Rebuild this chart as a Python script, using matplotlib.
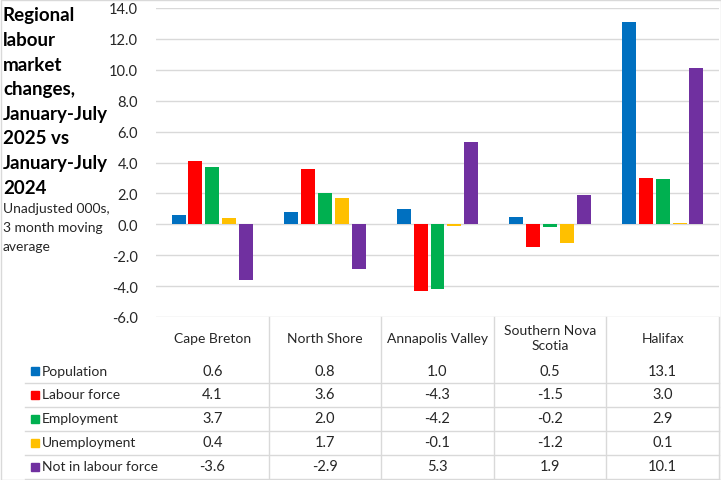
import matplotlib.pyplot as plt
from matplotlib.lines import Line2D
from matplotlib.patches import Rectangle
import numpy as np

plt.rcParams['font.family'] = ['Lato', 'DejaVu Sans']

regions = ['Cape Breton', 'North Shore', 'Annapolis Valley', 'Southern Nova\nScotia', 'Halifax']
series = ['Population', 'Labour force', 'Employment', 'Unemployment', 'Not in labour force']
population = [0.6, 0.8, 1.0, 0.5, 13.1]
labour_force = [4.1, 3.6, -4.3, -1.5, 3.0]
employment = [3.7, 2.0, -4.2, -0.2, 2.9]
unemployment = [0.4, 1.7, -0.1, -1.2, 0.1]
not_in_lf = [-3.6, -2.9, 5.3, 1.9, 10.1]
colors = ['#0070C0', '#FF0000', '#00B050', '#FFC000', '#7030A0']
yticks = np.arange(-6, 15, 2)

values = [population, labour_force, employment, unemployment, not_in_lf]

W, H = 721, 481
fig = plt.figure(figsize=(W / 100, H / 100), dpi=100)

def fx(px):
    return px / W

def fy(py):
    return 1 - py / H

# plot area
left, right, top, bottom = 156, 719, 9, 318
ax = fig.add_axes([fx(left), fy(bottom), fx(right - left), (bottom - top) / H])
ax.set_xlim(-0.5, 4.5)
ax.set_ylim(-6, 14)

x = np.arange(len(regions))
pitch = 0.15
width = 0.124
for i, (name, vals) in enumerate(zip(series, values)):
    ax.bar(x + (i - 2) * pitch, vals, width=width, color=colors[i], zorder=3)

ax.set_yticks(yticks)
ax.set_yticklabels(['%.1f' % t for t in yticks], fontsize=10.5, color='#262626')
ax.tick_params(axis='y', length=0, pad=13)
ax.set_xticks([])
ax.grid(axis='y', color='#D9D9D9', linewidth=1, zorder=0)
for s in ax.spines.values():
    s.set_visible(False)

# title
title_lines = ['Regional', 'labour', 'market', 'changes,', 'January-July',
               '2025 vs', 'January-July', '2024']
for k, line in enumerate(title_lines):
    fig.text(fx(3), fy(16 + k * 24.6), line, fontsize=13.5, fontweight='bold',
             va='center', ha='left', color='black')
sub_lines = ['Unadjusted 000s,', '3 month moving', 'average']
for k, line in enumerate(sub_lines):
    fig.text(fx(3), fy(209 + k * 19), line, fontsize=10, va='center', ha='left',
             color='#262626')

# data table
col_w = (right - left) / len(regions)
col_centers = [left + col_w * (j + 0.5) for j in range(len(regions))]
header_y = 339
row_y = [372, 395.5, 419.5, 443.5, 467.5]
row_lines = [384, 408, 432, 456, 480]
grid_c = '#D9D9D9'

for j, reg in enumerate(regions):
    fig.text(fx(col_centers[j]), fy(header_y), reg, fontsize=10, ha='center',
             va='center', color='#262626', linespacing=1.3)

for j in range(1, len(regions) + 1):
    xx = left + col_w * j
    fig.add_artist(Line2D([fx(xx), fx(xx)], [fy(bottom), fy(480)], color=grid_c,
                          linewidth=1))
for yy in row_lines:
    fig.add_artist(Line2D([fx(25), fx(right)], [fy(yy), fy(yy)], color=grid_c,
                          linewidth=1))

for i, name in enumerate(series):
    fig.add_artist(Rectangle((fx(31), fy(row_y[i] + 4)), fx(8), 8 / H,
                             color=colors[i]))
    fig.text(fx(42), fy(row_y[i]), name, fontsize=10, ha='left', va='center',
             color='#262626')
    for j in range(len(regions)):
        fig.text(fx(col_centers[j]), fy(row_y[i]), '%.1f' % values[i][j],
                 fontsize=10.5, ha='center', va='center', color='#262626')

# chart border
fig.add_artist(Rectangle((fx(0.5), fy(480.5)), fx(720), 480 / H, fill=False,
                         edgecolor='#D9D9D9', linewidth=1))

fig.savefig('out.png', dpi=100)
